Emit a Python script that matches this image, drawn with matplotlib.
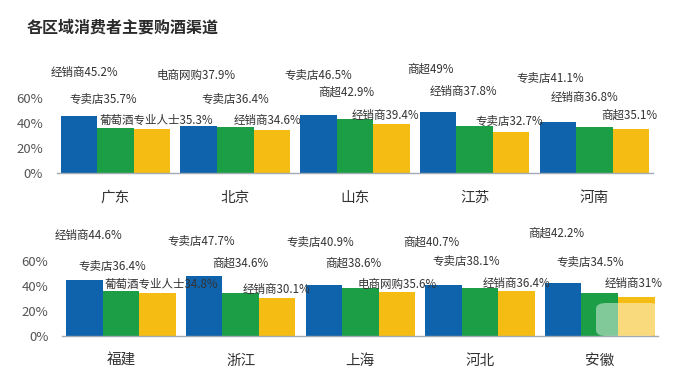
import matplotlib
matplotlib.use("Agg")
import matplotlib.pyplot as plt
from matplotlib.patches import FancyBboxPatch
import numpy as np

plt.rcParams['font.family'] = ['Noto Sans CJK SC', 'DejaVu Sans']

title = "各区域消费者主要购酒渠道"

# ---- data ----
top_regions = ["广东", "北京", "山东", "江苏", "河南"]
top_channels = [
    ["经销商", "专卖店", "葡萄酒专业人士"],
    ["电商网购", "专卖店", "经销商"],
    ["专卖店", "商超", "经销商"],
    ["商超", "经销商", "专卖店"],
    ["专卖店", "经销商", "商超"],
]
top_values = [
    [45.2, 35.7, 35.3],
    [37.9, 36.4, 34.6],
    [46.5, 42.9, 39.4],
    [49.0, 37.8, 32.7],
    [41.1, 36.8, 35.1],
]
top_value_text = [
    ["45.2%", "35.7%", "35.3%"],
    ["37.9%", "36.4%", "34.6%"],
    ["46.5%", "42.9%", "39.4%"],
    ["49%", "37.8%", "32.7%"],
    ["41.1%", "36.8%", "35.1%"],
]

bot_regions = ["福建", "浙江", "上海", "河北", "安徽"]
bot_channels = [
    ["经销商", "专卖店", "葡萄酒专业人士"],
    ["专卖店", "商超", "经销商"],
    ["专卖店", "商超", "电商网购"],
    ["商超", "专卖店", "经销商"],
    ["商超", "专卖店", "经销商"],
]
bot_values = [
    [44.6, 36.4, 34.8],
    [47.7, 34.6, 30.1],
    [40.9, 38.6, 35.6],
    [40.7, 38.1, 36.4],
    [42.2, 34.5, 31.0],
]
bot_value_text = [
    ["44.6%", "36.4%", "34.8%"],
    ["47.7%", "34.6%", "30.1%"],
    ["40.9%", "38.6%", "35.6%"],
    ["40.7%", "38.1%", "36.4%"],
    ["42.2%", "34.5%", "31%"],
]

yticks = [0, 20, 40, 60]
ytick_labels = ["0%", "20%", "40%", "60%"]

# ---- label placement (text annotation layout, in axis units) ----
top_label_y = [[80.2, 59.2, 41.9], [77.9, 59.2, 41.9], [78.4, 64.5, 45.6],
               [83.0, 65.0, 41.0], [75.7, 60.5, 45.9]]
top_label_dx_px = [[5, -12.5, 4.5], [-2.5, 0, -4.5], [0, -9, -6.5],
                   [-7.5, -11, -2], [-7.5, -10, -1.5]]
bot_label_y = [[80.2, 56.0, 41.3], [76.0, 58.6, 37.6], [75.0, 58.6, 41.6],
               [75.0, 60.0, 42.4], [82.6, 59.0, 42.4]]
bot_label_dx_px = [[4.5, -8.5, 4], [-3, -0.5, -0.5], [-3.5, -7, 0],
                   [-12.5, -14, 0], [-7, -9.5, -3]]

colors = ["#0F63AD", "#1C9E47", "#F5BD14"]
W, H = 700, 383
bar_w = 0.305
pitch_px = 119.7

fig = plt.figure(figsize=(7.0, 3.83), dpi=100)
fig.patch.set_facecolor("white")

fig.text(27 / W, 1 - 28 / H, title, fontsize=11.5, fontweight="bold",
         color="#2b2b2b", ha="left", va="center")


def panel(left_px, base_px, regions, channels, values, vtext, label_y, label_dx):
    width_px = 4.98 * pitch_px
    height_px = 90 * 1.25
    ax = fig.add_axes([left_px / W, 1 - base_px / H, width_px / W, height_px / H])
    ax.set_xlim(-0.49, 4.49)
    ax.set_ylim(0, 90)
    x = np.arange(len(regions))
    vals = np.array(values)
    for k in range(3):
        ax.bar(x + (k - 1) * bar_w, vals[:, k], width=bar_w, color=colors[k],
               edgecolor="none", zorder=2)
    for i in range(len(regions)):
        for k in range(3):
            xc = x[i] + (k - 1) * bar_w + label_dx[i][k] / pitch_px
            ax.text(xc, label_y[i][k], channels[i][k] + vtext[i][k],
                    fontsize=8.3, color="#333333", ha="center", va="center",
                    zorder=3)
    for s in ["top", "right", "left"]:
        ax.spines[s].set_visible(False)
    ax.spines["bottom"].set_color("#A3AAB2")
    ax.spines["bottom"].set_linewidth(1.0)
    ax.set_yticks(yticks)
    ax.set_yticklabels(ytick_labels, fontsize=9.5, color="#555555")
    ax.tick_params(axis="y", length=0, pad=10)
    ax.set_xticks(x)
    ax.set_xticklabels(regions, fontsize=10.5, color="#333333")
    ax.tick_params(axis="x", length=0, pad=13)
    ax.set_facecolor("none")
    return ax


panel(56.9, 173, top_regions, top_channels, top_values, top_value_text,
      top_label_y, top_label_dx_px)
panel(62.3, 336, bot_regions, bot_channels, bot_values, bot_value_text,
      bot_label_y, bot_label_dx_px)

# faint watermark overlay at bottom right (above the baseline)
wm = FancyBboxPatch((596 / W, 1 - 336 / H), 64 / W, 33 / H,
                    boxstyle="round,pad=0,rounding_size=0.015",
                    transform=fig.transFigure, facecolor="white",
                    edgecolor="none", alpha=0.45, zorder=10)
fig.patches.append(wm)

fig.savefig("out.png", dpi=100, facecolor="white")
